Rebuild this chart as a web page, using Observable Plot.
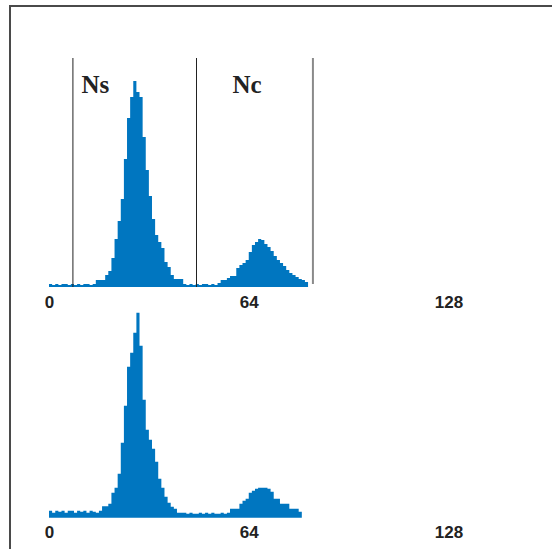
<!DOCTYPE html>
<html>
<head>
<meta charset="utf-8">
<script src="https://cdn.jsdelivr.net/npm/d3@7"></script>
<script src="https://cdn.jsdelivr.net/npm/@observablehq/plot@0.6"></script>
<style>
  html, body { margin: 0; padding: 0; background: #fff; }
  #wrap { position: relative; width: 552px; height: 549px; overflow: hidden; }
  #wrap svg { position: absolute; left: 0; }
  .frameTop { position: absolute; left: 9px; top: 5px; width: 543px; border-top: 2px solid #4a4a4a; }
  .frameLeft { position: absolute; left: 9px; top: 5px; height: 544px; border-left: 2px solid #4a4a4a; }
</style>
</head>
<body>
<div id="wrap"><div class="frameTop"></div><div class="frameLeft"></div></div>
<script>
// Histogram bin counts (unit-width channels starting at 0)
const topCounts = [
  3,2,3,2,3,3,2,3,2,3,2,3,3,2,
  3,7,7,7,12,16,29,48,66,88,128,169,190,206,195,190,150,117,91,68,52,45,39,25,20,12,8,8,8,
  3,2,3,2,3,2,3,3,2,3,2,
  4,7,7,9,11,11,19,22,24,27,35,42,45,48,47,43,40,36,31,27,24,21,17,14,12,10,8,7,5
];
const bottomCounts = [
  7,5,7,6,7,5,7,7,5,7,6,7,5,7,6,5,7,
  11.5,11.5,14,25,30,44,75,112,151,165,185,205,172,118,88,78,69,56,39,30,21,15,11,9,5,5,
  5,4,5,4,4,5,4,5,4,5,4,4,5,4,5,
  9,9,9,14,17,19,25,27,29,30,30,30,29,26,19,19,14,14,14,9,9,9,6
];
const tickValues = [0, 64, 128];
const gateLines = [7.5, 47.1];
const gateEnd = [84.4];
const gateLabels = ["Ns", "Nc"];
const gateLabelX = [14.7, 63.3];

const blue = "#0076c0";
function toSteps(counts) {
  const pts = counts.map((c, i) => ({x: i, y: c}));
  pts.push({x: counts.length, y: counts[counts.length - 1]});
  return pts;
}
const axisStyle = {fontFamily: "'Liberation Sans', Arial, sans-serif", fontSize: "17px", fontWeight: "bold", color: "#222", background: "transparent", overflow: "visible"};

const topPlot = Plot.plot({
  width: 552, height: 310,
  marginLeft: 49, marginRight: 103.5, marginTop: 58, marginBottom: 23,
  style: axisStyle,
  x: {domain: [0, 128], ticks: tickValues, tickSize: 0, tickPadding: 8, label: null},
  y: {domain: [0, 229], axis: null},
  marks: [
    Plot.areaY(toSteps(topCounts), {x: "x", y: "y", curve: "step-after", fill: blue}),
    Plot.ruleX(gateLines, {y1: 0, y2: 229, stroke: "#222", strokeWidth: 1}),
    Plot.ruleX(gateEnd, {y1: 3, y2: 229, stroke: "#8a8a8a", strokeWidth: 2}),
    Plot.text(gateLabels, {x: (d, i) => gateLabelX[i], y: 203, text: d => d, fontFamily: "'Liberation Serif', 'Times New Roman', serif", fontWeight: "bold", fontSize: 25, fill: "#222"})
  ]
});
topPlot.style.top = "0px";

const bottomPlot = Plot.plot({
  width: 552, height: 239,
  marginLeft: 49, marginRight: 103.5, marginTop: 0, marginBottom: 31.3,
  style: axisStyle,
  x: {domain: [0, 128], ticks: tickValues, tickSize: 0, tickPadding: 8, label: null},
  y: {domain: [0, 207.7], axis: null},
  marks: [
    Plot.areaY(toSteps(bottomCounts), {x: "x", y: "y", curve: "step-after", fill: blue})
  ]
});
bottomPlot.style.top = "310px";

const wrap = document.getElementById("wrap");
wrap.appendChild(topPlot);
wrap.appendChild(bottomPlot);
</script>
</body>
</html>
